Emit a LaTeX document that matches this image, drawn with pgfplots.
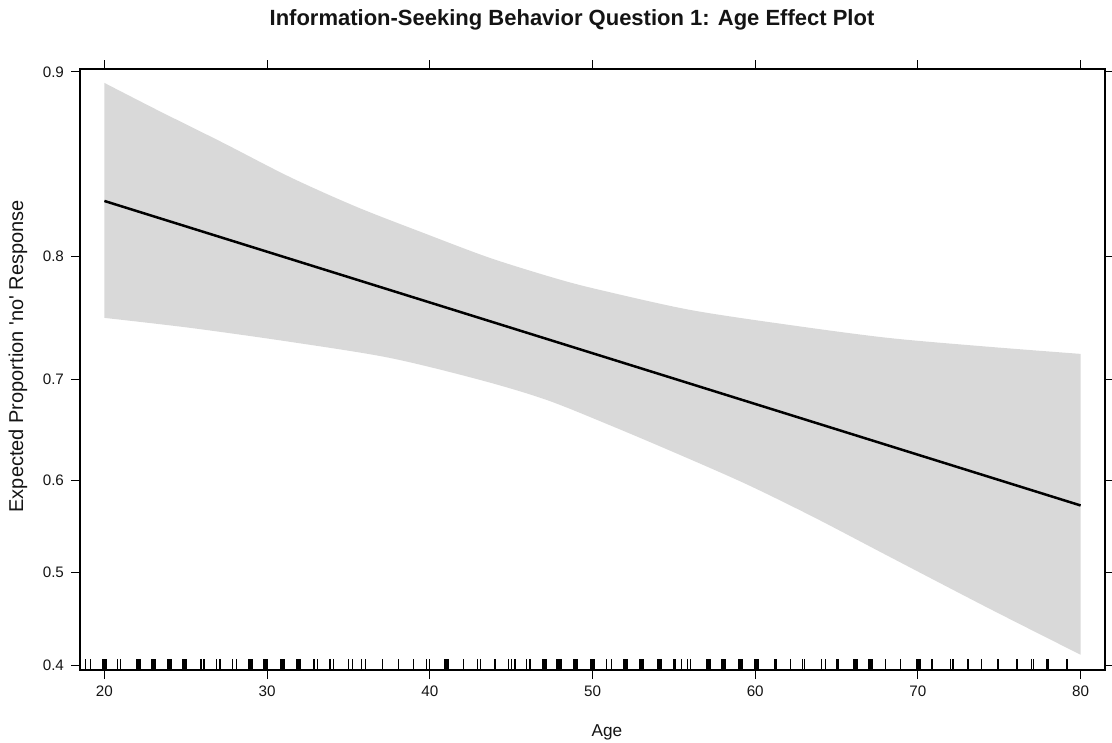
\documentclass[border=0pt]{standalone}
\usepackage{pgfplots}
\pgfplotsset{compat=1.18}
\usepgfplotslibrary{fillbetween}
\usepackage{fontspec}
\setmainfont{Liberation Sans}
\definecolor{bandgray}{RGB}{217,217,217}
\definecolor{txt}{RGB}{20,20,20}

% band edges on the logit scale
\pgfplotstableread{
x y
20.0 2.149
23.25 2.030
27.3 1.886
31.4 1.736
35.5 1.605
39.6 1.491
43.7 1.381
47.8 1.290
50.5 1.240
56.0 1.153
62.1 1.087
68.2 1.030
74.4 0.991
80.0 0.960
}\bandupper

\pgfplotstableread{
x y
20.0 1.118
25.3 1.074
31.4 1.013
37.5 0.943
43.08 0.846
47.18 0.758
51.27 0.641
55.37 0.517
59.47 0.388
63.56 0.245
68.2 0.072
74.4 -0.158
80.0 -0.360
}\bandlower

\pgfplotstableread{
x y
20 1.631
80 0.295
}\fitline

\pgfplotstableread{
x y
18.82 -0.403
19.13 -0.403
20.80 -0.403
21.01 -0.403
25.93 -0.403
26.13 -0.403
26.91 -0.403
27.11 -0.403
27.89 -0.403
28.10 -0.403
32.89 -0.403
33.09 -0.403
33.87 -0.403
34.07 -0.403
35.00 -0.403
35.26 -0.403
35.82 -0.403
36.04 -0.403
37.11 -0.403
38.07 -0.403
38.99 -0.403
39.81 -0.403
39.97 -0.403
42.06 -0.403
42.92 -0.403
43.13 -0.403
44.00 -0.403
44.82 -0.403
45.03 -0.403
45.23 -0.403
45.95 -0.403
46.15 -0.403
50.87 -0.403
51.15 -0.403
55.49 -0.403
55.82 -0.403
56.04 -0.403
62.17 -0.403
62.89 -0.403
63.05 -0.403
64.09 -0.403
64.30 -0.403
67.99 -0.403
68.94 -0.403
70.87 -0.403
72.00 -0.403
72.16 -0.403
73.08 -0.403
73.90 -0.403
74.92 -0.403
76.09 -0.403
76.97 -0.403
77.11 -0.403
79.16 -0.403
}\rugthin

\pgfplotstableread{
x y
55.03 -0.403
61.27 -0.403
65.07 -0.403
77.94 -0.403
}\rugmed

\pgfplotstableread{
x y
20.00 -0.403
22.08 -0.403
23.00 -0.403
24.00 -0.403
24.90 -0.403
28.97 -0.403
29.88 -0.403
30.95 -0.403
31.95 -0.403
41.01 -0.403
47.05 -0.403
47.94 -0.403
48.97 -0.403
50.02 -0.403
52.05 -0.403
53.00 -0.403
54.14 -0.403
57.12 -0.403
58.04 -0.403
59.09 -0.403
60.10 -0.403
66.15 -0.403
67.07 -0.403
70.05 -0.403
}\rugthick

\begin{document}
\begin{tikzpicture}
\begin{axis}[
  width=512.5pt, height=300.5pt, scale only axis,
  xmin=18.5, xmax=81.5, ymin=-0.427, ymax=2.21,
  axis line style={black, line width=0.55pt},
  tick align=outside, major tick length=4.5pt,
  tick style={black, line width=0.55pt},
  xtick={20,30,40,50,60,70,80},
  ytick={-0.405465,0,0.405465,0.847298,1.386294,2.197225},
  yticklabels={0.4,0.5,0.6,0.7,0.8,0.9},
  /pgf/number format/assume math mode=true,
  tick label style={font=\fontsize{7.6}{9}\selectfont, text=txt},
  xlabel={Age},
  ylabel={Expected Proportion \textquotesingle no\textquotesingle\ Response},
  xlabel style={at={(axis description cs:0.514,-0.103)}, anchor=center,
    font=\fontsize{8.6}{10}\selectfont, text=txt},
  ylabel style={at={(axis description cs:-0.0605,0.522)}, anchor=center,
    font=\fontsize{10}{12}\selectfont, text=txt},
  every axis title shift=0pt,
  title={Information-Seeking Behavior Question 1: Age Effect Plot},
  title style={at={(axis description cs:0.48,1.0815)}, anchor=center,
    font=\bfseries\fontsize{11}{13}\selectfont, text=txt},
  clip=true,
]
\addplot[name path=up, draw=none, smooth, forget plot] table[x=x,y=y] {\bandupper};
\addplot[name path=lo, draw=none, smooth, forget plot] table[x=x,y=y] {\bandlower};
\addplot[bandgray, draw=none] fill between[of=up and lo];
\addplot[black, line width=1.25pt] table[x=x,y=y] {\fitline};
\addplot[only marks, mark=|, mark size=2.75pt, mark options={line width=0.65pt, black}] table[x=x,y=y] {\rugthin};
\addplot[only marks, mark=|, mark size=2.75pt, mark options={line width=1.5pt, black}] table[x=x,y=y] {\rugmed};
\addplot[only marks, mark=|, mark size=2.75pt, mark options={line width=2.6pt, black}] table[x=x,y=y] {\rugthick};
\end{axis}
\pgfresetboundingbox
\path ([xshift=-40pt,yshift=-36pt]current axis.south west) rectangle ([xshift=3.5pt,yshift=34.5pt]current axis.north east);
\end{tikzpicture}
\end{document}
